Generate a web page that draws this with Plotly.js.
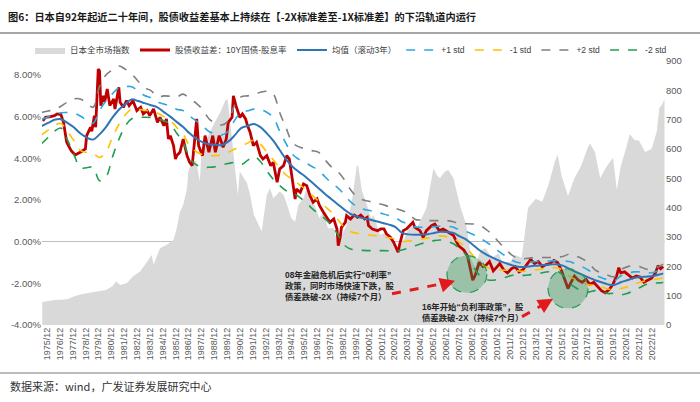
<!DOCTYPE html>
<html><head><meta charset="utf-8">
<script src="https://cdn.plot.ly/plotly-3.0.1.min.js"></script>
<style>html,body{margin:0;padding:0;background:#fff}#c{width:700px;height:402px}</style>
</head><body><div id="c"></div>
<script>
// Spread series (decimal years, %)
const redX = [1975.6,1975.8,1976.2,1976.5,1976.7,1977.0,1977.2,1977.45,1977.8,1978.1,1978.5,1978.9,1979.0,1979.3,1979.4,1979.6,1979.7,1979.9,1980.0,1980.1,1980.3,1980.4,1980.6,1980.8,1981.1,1981.2,1981.5,1981.6,1981.85,1982.1,1982.3,1982.6,1982.9,1983.2,1983.4,1983.7,1983.9,1984.2,1984.5,1984.7,1985.0,1985.2,1985.35,1985.5,1985.75,1985.9,1986.0,1986.25,1986.5,1986.8,1987.0,1987.2,1987.4,1987.55,1987.7,1988.0,1988.2,1988.5,1988.8,1989.0,1989.3,1989.6,1989.85,1990.0,1990.3,1990.4,1990.6,1990.9,1991.1,1991.35,1991.5,1991.7,1991.95,1992.2,1992.5,1992.7,1993.0,1993.3,1993.5,1993.8,1994.0,1994.3,1994.55,1994.75,1994.9,1995.0,1995.2,1995.3,1995.6,1995.85,1996.1,1996.35,1996.6,1996.9,1997.1,1997.4,1997.7,1997.9,1998.2,1998.45,1998.55,1998.7,1998.8,1999.1,1999.2,1999.5,1999.8,2000.05,2000.3,2000.6,2000.8,2000.9,2001.2,2001.6,2001.85,2002.1,2002.3,2002.6,2002.85,2003.1,2003.2,2003.3,2003.6,2003.85,2004.1,2004.35,2004.5,2004.9,2005.15,2005.4,2005.8,2006.05,2006.4,2006.7,2007.1,2007.5,2007.9,2008.3,2008.6,2008.8,2009.0,2009.2,2009.5,2009.8,2010.0,2010.3,2010.6,2010.9,2011.1,2011.4,2011.7,2012.0,2012.3,2012.6,2012.9,2013.2,2013.5,2013.8,2014.1,2014.4,2014.7,2015.0,2015.3,2015.6,2015.9,2016.2,2016.4,2016.6,2016.9,2017.2,2017.5,2017.8,2018.1,2018.4,2018.7,2019.0,2019.3,2019.6,2019.9,2020.2,2020.35,2020.5,2020.8,2021.1,2021.4,2021.7,2022.0,2022.3,2022.6,2022.9,2023.2,2023.4,2023.6,2023.8];
const redY = [5.8,5.97,6.0,6.05,6.13,6.1,5.73,4.77,4.37,4.16,4.29,4.45,5.09,5.49,5.3,6.05,5.49,8.29,8.2,6.53,7.0,6.7,7.33,6.53,6.85,6.37,7.41,6.69,6.45,6.77,6.53,6.77,6.29,6.45,6.13,6.29,6.05,6.37,5.73,5.97,5.57,5.89,4.93,5.09,4.61,3.97,4.13,4.29,4.93,4.13,3.81,3.65,4.93,5.89,4.61,4.13,5.09,4.29,5.09,4.29,5.09,4.53,4.93,5.73,5.97,7.0,6.53,5.97,6.13,5.89,5.57,5.25,4.61,4.77,4.13,3.97,4.13,3.65,3.81,2.85,3.49,3.65,4.13,3.97,3.33,2.85,2.05,2.53,2.37,2.77,2.69,2.21,1.89,2.05,1.73,1.41,1.09,0.93,1.09,0.61,-0.19,0.21,0.69,0.93,1.25,1.09,1.28,1.17,1.28,1.09,1.17,0.77,0.61,0.53,0.61,0.61,0.37,0.21,-0.03,-0.43,-0.51,-0.19,0.53,0.61,0.77,0.93,0.69,0.53,0.21,0.53,0.77,0.85,0.53,0.61,0.45,0.3,-0.2,-0.4,-0.7,-1.3,-1.85,-1.6,-1.0,-1.2,-1.15,-0.95,-1.4,-1.2,-1.05,-1.35,-1.5,-1.3,-1.2,-1.45,-1.35,-1.1,-0.85,-1.05,-0.95,-1.2,-1.1,-1.05,-0.9,-1.0,-1.4,-1.9,-2.25,-2.0,-1.65,-1.85,-1.95,-1.8,-2.05,-1.95,-2.15,-2.35,-2.45,-2.3,-2.05,-1.6,-1.25,-1.5,-1.45,-1.6,-1.75,-1.65,-1.7,-1.95,-1.85,-1.75,-1.5,-1.15,-1.3,-1.2];

// Rolling bands (semiannual readings)
const bandX = [1975.5,1976.0,1976.5,1977.0,1977.5,1978.0,1978.5,1979.0,1979.5,1980.0,1980.5,1981.0,1981.5,1982.0,1982.5,1983.0,1983.5,1984.0,1984.5,1985.0,1985.5,1986.0,1986.5,1987.0,1987.5,1988.0,1988.5,1989.0,1989.5,1990.0,1990.5,1991.0,1991.5,1992.0,1992.5,1993.0,1993.5,1994.0,1994.5,1995.0,1995.5,1996.0,1996.5,1997.0,1997.5,1998.0,1998.5,1999.0,1999.5,2000.0,2000.5,2001.0,2001.5,2002.0,2002.5,2003.0,2003.5,2004.0,2004.5,2005.0,2005.5,2006.0,2006.5,2007.0,2007.5,2008.0,2008.5,2009.0,2009.5,2010.0,2010.5,2011.0,2011.5,2012.0,2012.5,2013.0,2013.5,2014.0,2014.5,2015.0,2015.5,2016.0,2016.5,2017.0,2017.5,2018.0,2018.5,2019.0,2019.5,2020.0,2020.5,2021.0,2021.5,2022.0,2022.5,2023.0,2023.5,2023.8];
const meanY = [5.55,5.7,5.85,5.88,5.7,5.49,5.2,5.0,4.9,5.15,5.5,5.95,6.33,6.6,6.83,6.75,6.65,6.55,6.45,6.22,6.0,5.75,5.5,5.2,4.95,4.78,4.68,4.65,4.64,4.8,5.1,5.45,5.55,5.65,5.5,5.2,4.85,4.4,3.95,3.6,3.35,3.12,2.85,2.58,2.3,2.05,1.8,1.55,1.33,1.2,1.12,1.06,0.98,0.9,0.82,0.7,0.42,0.35,0.33,0.34,0.36,0.42,0.48,0.46,0.42,0.25,0.1,-0.15,-0.4,-0.6,-0.75,-0.9,-1.02,-1.12,-1.2,-1.22,-1.18,-1.15,-1.12,-1.1,-1.08,-1.15,-1.3,-1.45,-1.58,-1.72,-1.85,-1.95,-2.05,-2.08,-1.95,-1.85,-1.75,-1.7,-1.68,-1.65,-1.58,-1.52];
const plus1Y = [5.88,5.99,6.1,6.19,6.2,6.17,6.03,5.83,5.68,6.3,6.75,7.1,7.38,7.44,7.44,7.23,7.02,6.9,6.7,6.61,6.49,6.35,6.29,6.03,5.8,5.57,5.29,5.17,5.12,5.3,5.83,6.2,6.28,6.36,6.34,6.21,5.97,5.3,4.7,4.18,3.95,3.79,3.61,3.44,3.13,2.83,2.59,2.28,1.92,1.68,1.56,1.5,1.42,1.34,1.25,1.15,0.96,0.85,0.71,0.69,0.69,0.72,0.75,0.74,0.69,0.55,0.48,0.35,0.2,0.0,-0.2,-0.45,-0.67,-0.87,-1.0,-1.02,-0.98,-0.95,-0.94,-0.93,-0.91,-0.93,-0.95,-1.07,-1.2,-1.37,-1.6,-1.73,-1.83,-1.88,-1.65,-1.53,-1.45,-1.45,-1.5,-1.48,-1.38,-1.3];
const minus1Y = [5.13,5.35,5.58,5.67,5.3,4.85,4.38,4.28,4.24,4.04,4.3,5.0,5.62,6.08,6.37,6.36,6.31,6.26,6.18,6.01,5.83,5.48,5.14,4.6,4.33,4.18,4.13,4.13,4.16,4.28,4.45,4.58,4.73,4.88,4.68,4.3,3.93,3.55,3.2,2.98,2.75,2.51,2.23,1.97,1.7,1.43,1.08,0.7,0.49,0.4,0.35,0.32,0.28,0.24,0.19,0.13,0.01,0.03,0.07,0.12,0.17,0.24,0.28,0.24,0.16,-0.05,-0.28,-0.65,-1.0,-1.2,-1.3,-1.35,-1.37,-1.37,-1.4,-1.42,-1.38,-1.35,-1.3,-1.27,-1.25,-1.37,-1.65,-1.83,-1.96,-2.07,-2.1,-2.17,-2.27,-2.28,-2.25,-2.17,-2.05,-1.95,-1.86,-1.82,-1.78,-1.74];
const plus2Y = [6.2,6.27,6.35,6.5,6.7,6.85,6.85,6.65,6.45,7.45,8.0,8.25,8.43,8.28,8.05,7.7,7.38,7.25,6.95,7.0,6.98,6.95,7.08,6.86,6.65,6.35,5.9,5.68,5.6,5.8,6.55,6.95,7.0,7.06,7.17,7.22,7.09,6.2,5.45,4.75,4.55,4.46,4.37,4.3,3.95,3.6,3.37,3.0,2.5,2.15,2.0,1.93,1.86,1.78,1.68,1.6,1.5,1.35,1.08,1.03,1.01,1.01,1.01,1.01,0.96,0.85,0.86,0.85,0.8,0.6,0.35,0.0,-0.32,-0.62,-0.8,-0.82,-0.78,-0.75,-0.76,-0.76,-0.74,-0.71,-0.6,-0.69,-0.82,-1.02,-1.35,-1.51,-1.61,-1.68,-1.35,-1.21,-1.15,-1.2,-1.32,-1.31,-1.18,-1.08];
const minus2Y = [4.7,5.0,5.3,5.45,4.9,4.2,3.55,3.55,3.57,2.93,3.1,4.05,4.9,5.55,5.9,5.97,5.97,5.96,5.91,5.8,5.65,5.2,4.77,4.0,3.7,3.57,3.57,3.6,3.68,3.75,3.8,3.7,3.9,4.1,3.85,3.4,3.0,2.7,2.45,2.35,2.15,1.9,1.6,1.35,1.1,0.8,0.35,-0.15,-0.35,-0.4,-0.42,-0.43,-0.43,-0.43,-0.44,-0.45,-0.4,-0.3,-0.2,-0.1,-0.02,0.05,0.08,0.02,-0.1,-0.35,-0.66,-1.15,-1.6,-1.8,-1.85,-1.8,-1.72,-1.62,-1.6,-1.62,-1.58,-1.55,-1.48,-1.44,-1.42,-1.59,-2.0,-2.21,-2.34,-2.42,-2.35,-2.39,-2.49,-2.48,-2.55,-2.49,-2.35,-2.2,-2.04,-1.99,-1.98,-1.96];

// Japan all-market index (right axis)
const idxX = [1975.55,1976.0,1976.5,1977.0,1977.5,1978.0,1978.5,1979.0,1979.7,1980.5,1981.0,1981.3,1981.6,1982.1,1982.6,1983.15,1983.7,1984.05,1984.2,1984.7,1985.2,1985.75,1986.0,1986.25,1986.5,1986.8,1986.9,1987.15,1987.5,1987.8,1987.9,1988.35,1988.85,1989.4,1989.8,1989.95,1990.15,1990.4,1990.6,1990.75,1990.9,1991.2,1991.45,1991.7,1992.0,1992.6,1993.0,1993.25,1993.5,1994.0,1994.3,1994.5,1994.9,1995.2,1995.45,1995.85,1996.1,1996.35,1996.6,1997.1,1997.4,1997.75,1998.2,1998.45,1998.7,1999.2,1999.6,2000.0,2000.1,2000.4,2000.7,2001.1,2001.3,2001.8,2002.3,2002.85,2003.2,2003.6,2004.1,2004.65,2005.4,2005.95,2006.2,2006.45,2006.85,2007.1,2007.5,2008.0,2008.5,2008.9,2009.2,2009.6,2010.0,2010.5,2011.0,2011.3,2011.9,2012.3,2012.8,2013.3,2013.9,2014.4,2014.9,2015.4,2015.6,2015.9,2016.4,2016.9,2017.4,2017.9,2018.1,2018.5,2018.9,2019.4,2019.9,2020.2,2020.5,2020.9,2021.2,2021.6,2021.9,2022.4,2022.9,2023.3,2023.5,2023.7,2023.9];
const idxY = [78,82,85,86,88,97,104,108,114,119,132,148,136,142,165,182,216,239,205,262,273,290,330,386,409,466,523,557,560,489,580,637,682,727,767,770,693,591,520,443,523,500,485,443,375,320,443,466,432,455,443,420,364,352,409,432,466,443,420,364,386,330,330,284,296,341,420,545,541,455,420,364,375,307,318,284,262,284,341,330,398,534,511,500,523,528,501,409,341,222,194,256,262,228,245,215,215,239,228,400,430,420,480,560,580,510,440,500,540,600,620,590,500,540,570,460,540,600,650,630,630,590,600,660,740,750,770];

const tickYears = [];
for (let y = 1975; y <= 2022; y++) tickYears.push(y);
const tickVals = tickYears.map(y => y + 11/12);
const tickText = tickYears.map(y => y + '/12');

const names = ['日本全市场指数','股债收益差：10Y国债-股息率','均值（滚动3年）','+1 std','-1 std','+2 std','-2 std'];

const dash = 'dash';
const traces = [
  {x: idxX, y: idxY, yaxis: 'y', type: 'scatter', mode: 'lines', fill: 'tozeroy', fillcolor: '#d9d9d9', line: {width: 0, color: '#d9d9d9'}, name: names[0]},
  {x: redX, y: redY, yaxis: 'y2', type: 'scatter', mode: 'lines', line: {color: '#c00000', width: 2.8}, name: names[1]},
  {x: bandX, y: meanY, yaxis: 'y2', type: 'scatter', mode: 'lines', line: {color: '#2e75b6', width: 2, shape: 'spline'}, name: names[2]},
  {x: bandX, y: plus1Y, yaxis: 'y2', type: 'scatter', mode: 'lines', line: {color: '#2ba8e0', width: 1.6, dash: dash, shape: 'spline'}, name: names[3]},
  {x: bandX, y: minus1Y, yaxis: 'y2', type: 'scatter', mode: 'lines', line: {color: '#ffc000', width: 1.6, dash: dash, shape: 'spline'}, name: names[4]},
  {x: bandX, y: plus2Y, yaxis: 'y2', type: 'scatter', mode: 'lines', line: {color: '#7f7f7f', width: 1.6, dash: dash, shape: 'spline'}, name: names[5]},
  {x: bandX, y: minus2Y, yaxis: 'y2', type: 'scatter', mode: 'lines', line: {color: '#1f9e50', width: 1.6, dash: dash, shape: 'spline'}, name: names[6]}
];

const tickFont = {family: 'Liberation Sans, Arial, sans-serif', size: 9.5, color: '#595959'};
const cjk = 'Liberation Sans, "Noto Sans CJK SC", sans-serif';
const W = 623, H = 264, L = 42, T = 61;
const px = x => (x - L) / W;
const py = y => (T + H - y) / H;
const xRange = [1975.53, 2023.94];

const layout = {
  width: 700, height: 402,
  margin: {l: L, r: 35, t: T, b: 402 - T - H},
  paper_bgcolor: '#fff', plot_bgcolor: '#fff',
  showlegend: true,
  hovermode: false,
  title: {text: '<b>图6：日本自92年起近二十年间，股债收益差基本上持续在【-2X标准差至-1X标准差】的下沿轨道内运行</b>',
    x: 8/700, xanchor: 'left', xref: 'container', y: 1 - 17/402, yanchor: 'middle', yref: 'container',
    font: {family: '"Noto Sans CJK SC", sans-serif', size: 10.2, color: '#1a1a1a'}},
  legend: {orientation: 'h', x: px(30), xanchor: 'left', y: py(50), yanchor: 'middle',
    font: {family: cjk, size: 8.5, color: '#404040'}, bgcolor: 'rgba(0,0,0,0)', itemwidth: 30, tracegroupgap: 0},
  xaxis: {type: 'linear', range: xRange, tickmode: 'array', tickvals: tickVals, ticktext: tickText,
    tickangle: -90, tickfont: {family: 'Liberation Sans, Arial, sans-serif', size: 9, color: '#595959'},
    showgrid: false, zeroline: false, showline: false, ticks: ''},
  xaxis2: {type: 'linear', overlaying: 'x', anchor: 'free', position: py(241), range: xRange, tickmode: 'array', tickvals: tickVals,
    showticklabels: false, ticks: 'outside', ticklen: 3, tickcolor: '#bfbfbf', showline: true, linecolor: '#bfbfbf', linewidth: 1,
    showgrid: false, zeroline: false},
  yaxis: {side: 'right', range: [0, 900], tickmode: 'array', tickvals: [0,100,200,300,400,500,600,700,800,900],
    tickfont: tickFont, showgrid: false, zeroline: false, showline: false, ticks: ''},
  yaxis2: {side: 'left', overlaying: 'y', range: [-4, 8 + 14/20.83], tickmode: 'array', tickvals: [-4,-2,0,2,4,6,8],
    ticktext: ['-4.00%','-2.00%','0.00%','2.00%','4.00%','6.00%','8.00%'],
    tickfont: tickFont, showgrid: false, zeroline: true, zerolinecolor: '#bfbfbf', zerolinewidth: 1, showline: false, ticks: ''},
  shapes: [
    {type: 'line', xref: 'paper', yref: 'paper', x0: px(0), x1: px(700), y0: py(33), y1: py(33), line: {color: '#a6a6a6', width: 2}},
    {type: 'line', xref: 'paper', yref: 'paper', x0: px(0), x1: px(700), y0: py(373), y1: py(373), line: {color: '#a6a6a6', width: 1.5}},
    {type: 'circle', xref: 'x', yref: 'y2', x0: 2007.0, x1: 2010.1, y0: -2.45, y1: -0.67, fillcolor: 'rgba(40,150,80,0.35)', line: {color: '#1f9e50', width: 1.2, dash: 'dash'}},
    {type: 'circle', xref: 'x', yref: 'y2', x0: 2014.85, x1: 2017.96, y0: -3.2, y1: -1.3, fillcolor: 'rgba(40,150,80,0.35)', line: {color: '#1f9e50', width: 1.2, dash: 'dash'}},
    {type: 'line', xref: 'x', yref: 'y2', x0: 2002.73, y0: -2.5, x1: 2007.3, y1: -1.93, line: {color: '#e31a1c', width: 3, dash: 'dash'}},
    {type: 'line', xref: 'x', yref: 'y2', x0: 2012.83, y0: -3.6, x1: 2014.9, y1: -2.87, line: {color: '#e31a1c', width: 3, dash: 'dash'}}
  ],
  annotations: [
    {xref: 'x', yref: 'y2', x: 2007.62, y: -1.87, ax: 2007.1, ay: -1.97, axref: 'x', ayref: 'y2', text: '', showarrow: true, arrowhead: 2, arrowsize: 1, arrowwidth: 3, arrowcolor: '#e31a1c'},
    {xref: 'x', yref: 'y2', x: 2015.24, y: -2.74, ax: 2014.7, ay: -2.94, axref: 'x', ayref: 'y2', text: '', showarrow: true, arrowhead: 2, arrowsize: 1, arrowwidth: 3, arrowcolor: '#e31a1c'},
    {xref: 'paper', yref: 'paper', x: px(283), y: py(286), xanchor: 'left', yanchor: 'middle', align: 'left', showarrow: false,
      text: '<b>08年金融危机后实行“0利率”<br>政策，同时市场快速下跌，股<br>债差跌破-2X（持续7个月）</b>',
      font: {family: cjk, size: 8.4, color: '#262626'}},
    {xref: 'paper', yref: 'paper', x: px(473), y: py(312), xanchor: 'center', yanchor: 'middle', align: 'center', showarrow: false,
      text: '<b>16年开始“负利率政策”，股<br>债差跌破-2X（持续7个月）</b>',
      font: {family: cjk, size: 8.4, color: '#262626'}},
    {xref: 'paper', yref: 'paper', x: px(8), y: py(386), xanchor: 'left', yanchor: 'middle', showarrow: false,
      text: '数据来源：wind，广发证券发展研究中心', font: {family: '"Noto Sans CJK SC", sans-serif', size: 11, color: '#333333'}}
  ]
};

Plotly.newPlot('c', traces, layout, {displayModeBar: false, staticPlot: true});
</script></body></html>
